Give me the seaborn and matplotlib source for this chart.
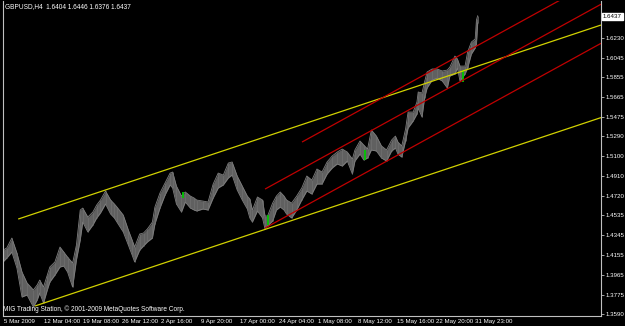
import numpy as np
import pandas as pd
import matplotlib
matplotlib.use("Agg")
import matplotlib.pyplot as plt
import seaborn as sns
from matplotlib import transforms, font_manager

# ---- data (H4 bar index, price) ----
bar_idx = [0, 3, 7, 11, 15, 19, 24, 27, 29, 32,
           35, 37, 41, 45, 48, 51, 55, 58, 61, 63,
           67, 71, 74, 77, 81, 85, 88, 90, 95, 99,
           102, 104, 108, 111, 114, 118, 120, 124, 128, 132,
           134, 137, 141, 144, 148, 151, 153, 158, 162, 166,
           170, 174, 178, 181, 185, 189, 193, 195, 197, 201,
           205, 207, 209, 213, 216, 219, 222, 224, 228, 232,
           236, 240, 244, 248, 252, 256, 260, 264, 268, 272,
           276, 278, 282, 285, 288, 291, 295, 299, 303, 307,
           310, 312, 315, 318, 320, 324, 327, 328, 331, 333,
           335, 339, 343, 347, 351, 353, 357, 359, 361, 365,
           367, 370, 373, 374, 375]
bar_high = [1.4202, 1.4222, 1.4317, 1.4174, 1.3992, 1.3887, 1.3820, 1.3868, 1.3915, 1.3848,
            1.3963, 1.4040, 1.4088, 1.4231, 1.4183, 1.4135, 1.4078, 1.4250, 1.4585, 1.4604,
            1.4518, 1.4566, 1.4633, 1.4681, 1.4767, 1.4681, 1.4643, 1.4614, 1.4537, 1.4394,
            1.4298, 1.4231, 1.4356, 1.4365, 1.4403, 1.4470, 1.4614, 1.4748, 1.4844, 1.4939,
            1.4949, 1.4815, 1.4719, 1.4758, 1.4719, 1.4700, 1.4681, 1.4671, 1.4662, 1.4834,
            1.4939, 1.4920, 1.5035, 1.5045, 1.4911, 1.4815, 1.4719, 1.4691, 1.4585, 1.4710,
            1.4681, 1.4528, 1.4528, 1.4652, 1.4719, 1.4758, 1.4719, 1.4681, 1.4652, 1.4719,
            1.4796, 1.4911, 1.4872, 1.4978, 1.4949, 1.5045, 1.5102, 1.5140, 1.5169, 1.5140,
            1.5073, 1.5160, 1.5246, 1.5207, 1.5169, 1.5351, 1.5293, 1.5198, 1.5160, 1.5255,
            1.5293, 1.5236, 1.5198, 1.5360, 1.5523, 1.5523, 1.5619, 1.5715, 1.5705, 1.5810,
            1.5906, 1.5935, 1.5935, 1.5916, 1.5925, 1.5954, 1.6059, 1.6030, 1.5963, 1.5963,
            1.6097, 1.6193, 1.6222, 1.6403, 1.6446]
bar_low = [1.4088, 1.4126, 1.4183, 1.4030, 1.3753, 1.3772, 1.3657, 1.3724, 1.3791, 1.3695,
           1.3820, 1.3896, 1.3963, 1.4040, 1.4049, 1.3992, 1.3848, 1.4107, 1.4298, 1.4470,
           1.4375, 1.4442, 1.4509, 1.4557, 1.4643, 1.4547, 1.4509, 1.4470, 1.4375, 1.4250,
           1.4155, 1.4088, 1.4202, 1.4241, 1.4279, 1.4317, 1.4451, 1.4604, 1.4729, 1.4825,
           1.4796, 1.4643, 1.4566, 1.4662, 1.4604, 1.4585, 1.4576, 1.4595, 1.4585, 1.4700,
           1.4796, 1.4825, 1.4892, 1.4920, 1.4777, 1.4681, 1.4595, 1.4509, 1.4470, 1.4576,
           1.4509, 1.4403, 1.4432, 1.4480, 1.4585, 1.4614, 1.4585, 1.4547, 1.4509, 1.4585,
           1.4681, 1.4767, 1.4738, 1.4834, 1.4834, 1.4930, 1.4987, 1.5026, 1.5006, 1.5054,
           1.4930, 1.5054, 1.5121, 1.5064, 1.5083, 1.5160, 1.5150, 1.5083, 1.5054, 1.5150,
           1.5179, 1.5121, 1.5092, 1.5246, 1.5370, 1.5437, 1.5504, 1.5561, 1.5475, 1.5657,
           1.5753, 1.5829, 1.5848, 1.5820, 1.5753, 1.5868, 1.5887, 1.5944, 1.5820, 1.5887,
           1.5944, 1.6078, 1.6136, 1.6174, 1.6376]

green_idx = [142, 209, 286, 363]
green_high = [1.4758, 1.4537, 1.5160, 1.5925]
green_low = [1.4700, 1.4442, 1.5064, 1.5810]

# trendlines: (bar0, price0, bar1, price1)
yellow_lines = [(12, 1.4499, 472.4, 1.6356),
                (25.3, 1.3667, 472.4, 1.5470)]
red_lines = [(236.2, 1.5236, 472.4, 1.6810),
             (207.0, 1.4786, 472.4, 1.6555),
             (207.0, 1.4413, 472.4, 1.6181)]

price_ticks = [1.6230, 1.6045, 1.5855, 1.5665, 1.5475, 1.5290, 1.5100, 1.4910,
               1.4720, 1.4535, 1.4345, 1.4155, 1.3965, 1.3775, 1.3590]
time_tick_bars = [0, 31, 62, 93, 124, 155, 186, 217, 248, 279, 310, 341, 372]
time_tick_labels = ["5 Mar 2009", "12 Mar 04:00", "19 Mar 08:00", "26 Mar 12:00",
                    "2 Apr 16:00", "9 Apr 20:00", "17 Apr 00:00", "24 Apr 04:00",
                    "1 May 08:00", "8 May 12:00", "15 May 16:00", "22 May 20:00",
                    "31 May 23:00"]
last_price = 1.6437
header = "GBPUSD,H4  1.6404 1.6446 1.6376 1.6437"
copyright_text = "MIG Trading Station, \u00a9 2001-2009 MetaQuotes Software Corp."

# ---- style ----
sns.set_theme(style="dark", rc={"axes.facecolor": "black", "figure.facecolor": "black",
                                 "axes.edgecolor": "#c0c0c0", "grid.color": "black"})
plt.rcParams["font.family"] = ["Liberation Sans", "DejaVu Sans"]
installed = {f.name for f in font_manager.fontManager.ttflist}
narrow = "Liberation Sans Narrow" if "Liberation Sans Narrow" in installed else "Liberation Sans"
small = 5.2 if narrow == "Liberation Sans Narrow" else 4.4

W, H = 625, 326
fig = plt.figure(figsize=(W / 100, H / 100), dpi=100)
ax = fig.add_axes([3 / W, 10 / H, 598 / W, 315 / H])
ax.set_facecolor("black")

df = pd.DataFrame({"bar": bar_idx * 2,
                   "price": bar_high + bar_low,
                   "kind": ["High"] * len(bar_idx) + ["Low"] * len(bar_idx)})

ax.fill_between(bar_idx, bar_low, bar_high, color="#606060", lw=0, zorder=1)
sns.lineplot(data=df, x="bar", y="price", hue="kind",
             palette={"High": "#808080", "Low": "#808080"},
             legend=False, lw=0.6, ax=ax, zorder=2)
ax.vlines(bar_idx, bar_low, bar_high, color="#707070", lw=0.5, zorder=2)
ax.vlines(green_idx, green_low, green_high, color="#00c800", lw=1.3, zorder=3)

x_max = 472.4
for (b0, p0, b1, p1) in yellow_lines:
    ax.plot([b0, b1], [p0, p1], color="#d2d200", lw=0.9, zorder=4, solid_capstyle="butt")
for (b0, p0, b1, p1) in red_lines:
    ax.plot([b0, b1], [p0, p1], color="#c00000", lw=0.9, zorder=4, solid_capstyle="butt")

ax.set_xlim(0, x_max)
ax.set_ylim(1.3571, 1.6586)
ax.set_xlabel("")
ax.set_ylabel("")
ax.grid(False)

ax.spines["top"].set_visible(False)
for s in ["left", "right", "bottom"]:
    ax.spines[s].set_color("#c0c0c0")
    ax.spines[s].set_linewidth(0.8)

# price axis on the right
ax.yaxis.tick_right()
ax.set_yticks(price_ticks)
ax.set_yticklabels([f"{p:.4f}" for p in price_ticks])
ax.tick_params(axis="y", colors="#c0c0c0", labelcolor="white", labelsize=small,
               length=2, width=0.6, pad=1.5, direction="out")
for lbl in ax.get_yticklabels():
    lbl.set_family(narrow)

# time axis
ax.set_xticks(time_tick_bars)
ax.set_xticklabels(time_tick_labels, ha="left")
ax.tick_params(axis="x", colors="#c0c0c0", labelcolor="white", labelsize=small,
               length=2, width=0.6, pad=0.3, direction="out")
offset = transforms.ScaledTranslation(1.5 / 100, 0, fig.dpi_scale_trans)
for lbl in ax.get_xticklabels():
    lbl.set_transform(lbl.get_transform() + offset)
    lbl.set_family(narrow)

# current price marker on the axis
trans = transforms.blended_transform_factory(ax.transAxes, ax.transData)
ax.text(1.0 + 2 / 598, last_price, f"{last_price:.4f}", transform=trans,
        fontsize=small, family=narrow, color="black", va="center", ha="left",
        bbox=dict(boxstyle="square,pad=0.15", fc="white", ec="white"), zorder=6,
        clip_on=False)

fig.text(5 / W, 1 - 7 / H, header, color="white", fontsize=small + 0.3, family=narrow,
         va="center", ha="left")
ax.text(0.5 / 598, 1 - (309 - 1) / 315, copyright_text, transform=ax.transAxes,
        color="white", fontsize=small + 0.3, family=narrow, va="center", ha="left", zorder=6)

fig.savefig("out.png", dpi=100, facecolor="black")
